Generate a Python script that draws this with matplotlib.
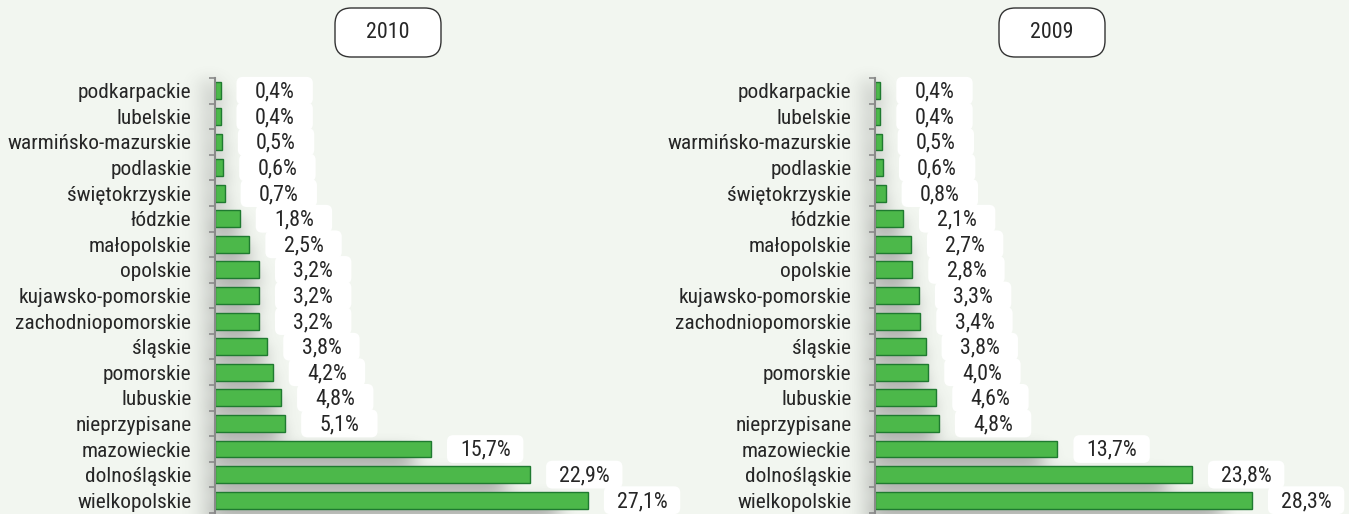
import numpy as np
import matplotlib
matplotlib.use("Agg")
import matplotlib.pyplot as plt
import matplotlib.transforms as mtransforms
from matplotlib.patches import FancyBboxPatch

plt.rcParams["font.family"] = ["Roboto Condensed", "Roboto", "DejaVu Sans"]

# regions, top to bottom
regions = [
    "podkarpackie", "lubelskie", "warmińsko-mazurskie", "podlaskie",
    "świętokrzyskie", "łódzkie", "małopolskie", "opolskie",
    "kujawsko-pomorskie", "zachodniopomorskie", "śląskie", "pomorskie",
    "lubuskie", "nieprzypisane", "mazowieckie", "dolnośląskie", "wielkopolskie",
]
share_2010 = [0.4, 0.4, 0.5, 0.6, 0.7, 1.8, 2.5, 3.2, 3.2, 3.2, 3.8, 4.2, 4.8, 5.1, 15.7, 22.9, 27.1]
share_2009 = [0.4, 0.4, 0.5, 0.6, 0.8, 2.1, 2.7, 2.8, 3.3, 3.4, 3.8, 4.0, 4.6, 4.8, 13.7, 23.8, 28.3]
years = ["2010", "2009"]

BG = "#f2f6f0"
BAR = "#4cb84a"
BAR_EDGE = "#1f7a30"
TEXT = "#262626"
FS_CAT = 15.4
FS_VAL = 15.8


def blur_1d(a, sigma, axis):
    r = int(3 * sigma) + 1
    k = np.exp(-0.5 * (np.arange(-r, r + 1) / sigma) ** 2)
    k /= k.sum()
    return np.apply_along_axis(lambda m: np.convolve(m, k, mode="same"), axis, a)


def draw_shadow(ax, values, y):
    # soft grey shadow under the bars and along the axis
    xs = np.arange(-3, 33, 0.05)
    ys = np.arange(-1.5, 18.5, 0.02)
    X, Y = np.meshgrid(xs, ys)
    mask = np.zeros_like(X)
    for v, yy in zip(values, y):
        mask[(X >= 0) & (X <= v * 0.92) & (np.abs(Y - (yy + 0.35)) <= 0.4)] = 1.0
    mask[(X >= -1.0) & (X <= 0) & (Y >= -0.5) & (Y <= 17.5)] = 0.5
    mask = blur_1d(mask, 0.7 / 0.05, 1)
    mask = blur_1d(mask, 0.25 / 0.02, 0)
    img = np.zeros(mask.shape + (4,))
    img[..., :3] = 0.3
    img[..., 3] = np.clip(mask, 0, 1) * 0.42
    ax.imshow(img, extent=(xs[0], xs[-1], ys[-1], ys[0]), aspect="auto",
              interpolation="bilinear", zorder=0.5, clip_on=False)


def draw_panel(ax, values):
    y = np.arange(len(regions))
    draw_shadow(ax, values, y)
    ax.barh(y, values, height=0.66, color=BAR, edgecolor=BAR_EDGE, linewidth=1.0, zorder=2)

    # value labels in fixed-size rounded white boxes
    w, h, gap = 55, 20, 11.5
    for v, yy in zip(values, y):
        trans = (mtransforms.Affine2D().scale(ax.figure.dpi / 72.0)
                 + mtransforms.ScaledTranslation(v, yy, ax.transData))
        box = FancyBboxPatch((gap, -h / 2), w, h,
                             boxstyle="round,pad=0,rounding_size=4.5",
                             facecolor="white", edgecolor="none",
                             transform=trans, zorder=3, clip_on=False)
        ax.add_artist(box)
        ax.annotate(f"{v:.1f}%".replace(".", ","), xy=(v, yy),
                    xytext=(gap + w / 2, -1), textcoords="offset points",
                    ha="center", va="center", fontsize=FS_VAL, color=TEXT,
                    zorder=4, annotation_clip=False)

    ax.set_xlim(0, 30)
    ax.set_ylim(len(regions) - 0.5, -0.5)
    ax.set_yticks(y)
    ax.set_yticklabels(regions, fontsize=FS_CAT, color=TEXT)
    ax.set_yticks(np.arange(len(regions) + 1) - 0.5, minor=True)
    ax.tick_params(axis="y", which="major", length=0, pad=17)
    ax.tick_params(axis="y", which="minor", length=4, width=1.2, color="#8a8a8a")
    ax.set_xticks([])
    for s in ["top", "right", "bottom"]:
        ax.spines[s].set_visible(False)
    ax.spines["left"].set_color("#8a8a8a")
    ax.spines["left"].set_linewidth(1.5)
    ax.spines["left"].set_zorder(5)
    ax.set_facecolor("none")


fig = plt.figure(figsize=(13.49, 5.14), dpi=100, facecolor=BG)
W, H = 1349, 514

panels = [
    (share_2010, 215, 13.76, 335),
    (share_2009, 875, 13.32, 999),
]
for (values, x0, px_per, box_x), year in zip(panels, years):
    ax = fig.add_axes([x0 / W, 1 - 513 / H, 30 * px_per / W, (513 - 78) / H])
    draw_panel(ax, values)

    # year header
    fig.patches.append(FancyBboxPatch(
        (box_x / W, 1 - 57 / H), 106 / W, 49 / H,
        boxstyle="round,pad=0,rounding_size=0.012",
        transform=fig.transFigure, facecolor="white",
        edgecolor="#333333", linewidth=1.0, mutation_aspect=W / H))
    fig.text((box_x + 53) / W, 1 - 33 / H, year, ha="center", va="center",
             fontsize=FS_VAL, color=TEXT)

fig.savefig("out.png", dpi=100, facecolor=BG)
